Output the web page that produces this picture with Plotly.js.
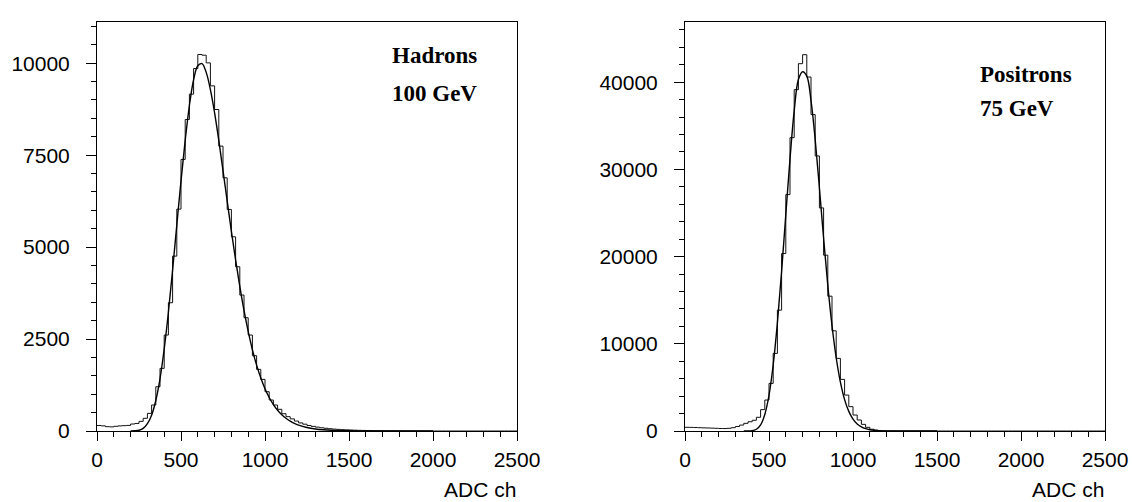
<!DOCTYPE html>
<html><head><meta charset="utf-8">
<script src="https://cdn.plot.ly/plotly-3.0.1.min.js"></script>
<style>html,body{margin:0;padding:0;background:#fff}#chart{width:1132px;height:502px}</style>
</head><body><div id="chart"></div>
<script>
// ---- data ----
const binWidth = 25; // ADC channels per histogram bin, bins start at 0
const hadronCounts = [
  150,140,118,112,128,138,145,152,190,205,262,345,480,707,1204,1703,2609,3487,4755,6033,
  7383,8470,9158,9855,10236,10217,10009,9384,8741,7745,6884,6024,5280,4465,3696,3080,2609,2047,1676,1404,
  1069,842,707,590,470,390,330,270,220,185,150,125,105,88,74,62,52,44,37,31,
  26,22,18,15,12,10,8,7,6,5,4,3,3,2,2,1,1,1,1,0,
  0,0,0,0,0,0,0,0,0,0,0,0,0,0,0,0,0,0,0,0
];
const hadronFitX = [200,225,250,275,300,325,350,375,400,425,450,475,500,525,550,575,600,625,650,675,700,725,750,775,800,825,850,875,900,925,950,975,1000,1025,1050,1075,1100,1125,1150,1175,1200,1250,1300,1350,1400,1450,1500,1600,1700,1800,2000];
const hadronFitY = [0,5,20,70,200,430,830,1420,2230,3230,4380,5600,6800,7900,8850,9550,9930,9990,9750,9280,8650,7900,7080,6250,5430,4650,3930,3280,2710,2210,1790,1440,1150,910,720,565,440,345,268,207,160,95,56,33,19,11,6,2,1,0,0];

const positronCounts = [
  420,415,400,380,360,345,330,310,290,280,310,380,520,680,880,1060,1230,1570,2450,3551,
  5460,8900,13860,20350,27110,33640,39140,42120,43150,40590,36280,31540,25580,20160,15460,11490,8330,5920,4120,2790,
  1830,1260,760,420,200,100,50,25,12,6,3,2,1,1,0,0,0,0,0,0,
  0,0,0,0,0,0,0,0,0,0,0,0,0,0,0,0,0,0,0,0,
  0,0,0,0,0,0,0,0,0,0,0,0,0,0,0,0,0,0,0,0
];
const positronFitX = [350,375,400,425,450,475,500,525,550,575,600,625,650,675,700,725,750,775,800,825,850,875,900,925,950,975,1000,1025,1050,1075,1100,1125,1150,1200,1250,1300,1500];
const positronFitY = [0,0,30,200,700,1900,4100,7600,12400,18300,24800,31200,36700,40300,41200,40700,37900,33400,27900,22100,16700,12100,8400,5600,3600,2250,1370,810,470,265,145,78,40,10,2,0,0];

const xTitle = "ADC ch";
const hadronLabel = ["Hadrons", "100 GeV"];
const positronLabel = ["Positrons", "75 GeV"];

// ---- build step outlines ----
function stepXY(counts){
  const x = [], y = [];
  counts.forEach((c,i)=>{ x.push(i*binWidth); y.push(c); });
  x.push(counts.length*binWidth); y.push(counts[counts.length-1]);
  return {x, y};
}
const hStep = stepXY(hadronCounts);
const pStep = stepXY(positronCounts);

const W = 1132, H = 502;
const px = v => v / W;
const py = v => (H - v) / H;

const traces = [
  {x: hStep.x, y: hStep.y, xaxis:'x', yaxis:'y', type:'scatter', mode:'lines',
   line:{shape:'hv', color:'#111', width:1}, hoverinfo:'skip'},
  {x: hadronFitX, y: hadronFitY, xaxis:'x', yaxis:'y', type:'scatter', mode:'lines',
   line:{shape:'spline', color:'#000', width:1.4}, hoverinfo:'skip'},
  {x: pStep.x, y: pStep.y, xaxis:'x2', yaxis:'y2', type:'scatter', mode:'lines',
   line:{shape:'hv', color:'#111', width:1}, hoverinfo:'skip'},
  {x: positronFitX, y: positronFitY, xaxis:'x2', yaxis:'y2', type:'scatter', mode:'lines',
   line:{shape:'spline', color:'#000', width:1.4}, hoverinfo:'skip'}
];

const tickFont = {family:'"Liberation Sans", Arial, Helvetica, sans-serif', size:21, color:'#000'};
function xAxis(domain, anchor){
  return {domain, anchor, range:[0,2500], tick0:0, dtick:500, showline:true, mirror:true,
    linecolor:'#000', linewidth:1, ticks:'outside', ticklen:9, tickwidth:1, tickcolor:'#000',
    minor:{dtick:100, tick0:0, ticks:'outside', ticklen:5, tickwidth:1, tickcolor:'#000', showgrid:false},
    showgrid:false, zeroline:false, tickfont:tickFont, ticklabelstandoff:1,
    tickformat:'d', fixedrange:true};
}
function yAxis(anchor, top, major, minor){
  return {domain:[py(431), py(22)], anchor, range:[0, top], tick0:0, dtick:major, showline:true, mirror:true,
    linecolor:'#000', linewidth:1, ticks:'outside', ticklen:10, tickwidth:1, tickcolor:'#000',
    minor:{dtick:minor, tick0:0, ticks:'outside', ticklen:5, tickwidth:1, tickcolor:'#000', showgrid:false},
    showgrid:false, zeroline:false, tickfont:tickFont, ticklabelstandoff:12,
    tickformat:'d', fixedrange:true};
}

const labelFont = {family:'"Liberation Serif", "Times New Roman", Times, serif', size:23, color:'#000', weight:'bold'};
const axFont = {family:'"Liberation Sans", Arial, Helvetica, sans-serif', size:21, color:'#000'};

const layout = {
  width:W, height:H, autosize:false, showlegend:false,
  margin:{l:0, r:0, t:0, b:0},
  paper_bgcolor:'#fff', plot_bgcolor:'#fff',
  xaxis: xAxis([px(97), px(517)], 'y'),
  yaxis: yAxis('x', 11120, 2500, 500),
  xaxis2: xAxis([px(685), px(1105)], 'y2'),
  yaxis2: yAxis('x2', 46900, 10000, 2000),
  annotations:[
    {text:xTitle, xref:'paper', yref:'paper', x:px(518), y:py(489), xanchor:'right', yanchor:'middle', showarrow:false, font:axFont},
    {text:xTitle, xref:'paper', yref:'paper', x:px(1106), y:py(489), xanchor:'right', yanchor:'middle', showarrow:false, font:axFont},
    {text:hadronLabel[0], xref:'paper', yref:'paper', x:px(390), y:py(55), xanchor:'left', yanchor:'middle', showarrow:false, font:labelFont},
    {text:hadronLabel[1], xref:'paper', yref:'paper', x:px(390), y:py(94), xanchor:'left', yanchor:'middle', showarrow:false, font:labelFont},
    {text:positronLabel[0], xref:'paper', yref:'paper', x:px(978), y:py(75), xanchor:'left', yanchor:'middle', showarrow:false, font:labelFont},
    {text:positronLabel[1], xref:'paper', yref:'paper', x:px(978), y:py(108), xanchor:'left', yanchor:'middle', showarrow:false, font:labelFont}
  ]
};

Plotly.newPlot('chart', traces, layout, {displayModeBar:false, staticPlot:true});
</script>
</body></html>
